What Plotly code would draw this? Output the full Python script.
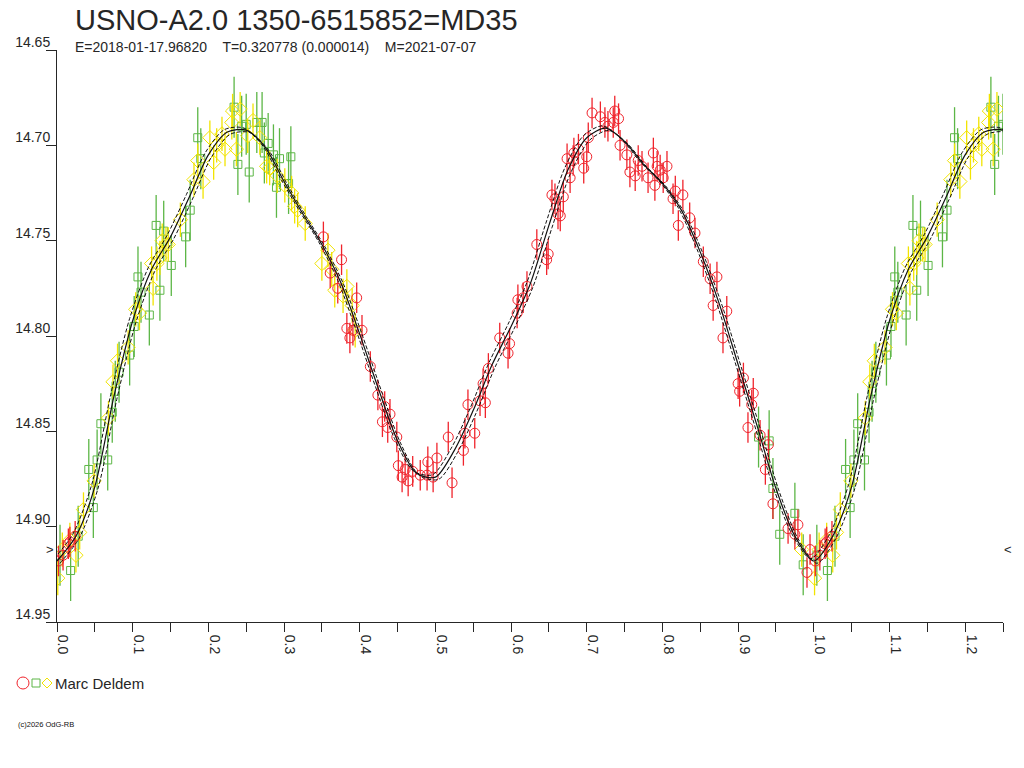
import plotly.graph_objects as go

# ---------------- data (phase, magnitude) ----------------
red_phase = [0.352, 0.361, 0.371, 0.376, 0.383, 0.387, 0.391, 0.396, 0.403, 0.414,
             0.424, 0.430, 0.433, 0.437, 0.440, 0.449, 0.451, 0.456, 0.460, 0.464,
             0.470, 0.480, 0.489, 0.490, 0.497, 0.502, 0.517, 0.522, 0.537, 0.539,
             0.543, 0.552, 0.559, 0.563, 0.566, 0.570, 0.585, 0.596, 0.598, 0.608,
             0.609, 0.616, 0.621, 0.634, 0.647, 0.649, 0.654, 0.658, 0.662, 0.665,
             0.669, 0.674, 0.678, 0.682, 0.683, 0.689, 0.696, 0.700, 0.702, 0.707,
             0.718, 0.724, 0.728, 0.735, 0.737, 0.742, 0.744, 0.753, 0.757, 0.764,
             0.768, 0.773, 0.781, 0.788, 0.790, 0.793, 0.797, 0.801, 0.806, 0.814,
             0.817, 0.821, 0.827, 0.836, 0.843, 0.854, 0.863, 0.867, 0.872, 0.880,
             0.885, 0.900, 0.902, 0.907, 0.913, 0.918, 0.920, 0.929, 0.936, 0.940,
             0.946, 0.966, 0.975, 0.979, 0.991, 0.995, 0.002, 0.008, 0.015, 0.017,
             0.024]
red_mag = [14.748, 14.767, 14.775, 14.760, 14.796, 14.801, 14.797, 14.780, 14.797, 14.816,
           14.831, 14.845, 14.837, 14.848, 14.841, 14.853, 14.868, 14.874, 14.870, 14.876,
           14.871, 14.873, 14.873, 14.866, 14.874, 14.864, 14.853, 14.877, 14.860, 14.851,
           14.836, 14.851, 14.834, 14.825, 14.835, 14.817, 14.801, 14.809, 14.804, 14.788,
           14.781, 14.780, 14.774, 14.752, 14.760, 14.757, 14.726, 14.728, 14.736, 14.737,
           14.727, 14.707, 14.717, 14.708, 14.704, 14.702, 14.712, 14.706, 14.696, 14.683,
           14.685, 14.688, 14.690, 14.688, 14.682, 14.686, 14.700, 14.705, 14.714, 14.716,
           14.708, 14.711, 14.717, 14.704, 14.721, 14.711, 14.713, 14.717, 14.711, 14.728,
           14.724, 14.742, 14.726, 14.738, 14.746, 14.761, 14.770, 14.784, 14.769, 14.801,
           14.787, 14.825, 14.829, 14.822, 14.848, 14.836, 14.830, 14.852, 14.870, 14.857,
           14.888, 14.901, 14.904, 14.899, 14.924, 14.912, 14.918, 14.915, 14.909, 14.908,
           14.905]
red_err = 0.008

green_phase = [0.004, 0.018, 0.028, 0.042, 0.048, 0.053, 0.058, 0.067, 0.073, 0.077,
               0.082, 0.096, 0.102, 0.107, 0.111, 0.122, 0.131, 0.136, 0.141, 0.151,
               0.170, 0.176, 0.186, 0.190, 0.234, 0.239, 0.244, 0.250, 0.254, 0.264,
               0.271, 0.274, 0.279, 0.286, 0.290, 0.294, 0.306, 0.309, 0.927, 0.941,
               0.946, 0.955, 0.975, 0.986]
green_mag = [14.915, 14.923, 14.905, 14.870, 14.890, 14.865, 14.846, 14.865, 14.840, 14.829,
             14.819, 14.810, 14.795, 14.769, 14.777, 14.789, 14.742, 14.776, 14.745, 14.763,
             14.748, 14.734, 14.696, 14.707, 14.680, 14.710, 14.690, 14.689, 14.714, 14.688,
             14.688, 14.704, 14.699, 14.705, 14.722, 14.707, 14.720, 14.706, 14.853, 14.855,
             14.880, 14.904, 14.893, 14.920]
green_err = 0.016

yellow_phase = [0.001, 0.007, 0.017, 0.025, 0.030, 0.035, 0.049, 0.068, 0.074, 0.080,
                0.094, 0.104, 0.109, 0.125, 0.127, 0.132, 0.136, 0.139, 0.144, 0.147,
                0.163, 0.181, 0.186, 0.193, 0.202, 0.207, 0.211, 0.218, 0.222, 0.231,
                0.232, 0.237, 0.242, 0.252, 0.259, 0.268, 0.277, 0.281, 0.291, 0.301,
                0.310, 0.314, 0.318, 0.328, 0.350, 0.358, 0.363, 0.367, 0.378, 0.383,
                0.390, 0.394, 0.984]
yellow_mag = [14.927, 14.912, 14.907, 14.915, 14.903, 14.891, 14.876, 14.843, 14.824, 14.813,
              14.806, 14.786, 14.788, 14.762, 14.775, 14.762, 14.759, 14.750, 14.752, 14.752,
              14.739, 14.718, 14.708, 14.719, 14.696, 14.709, 14.700, 14.694, 14.702, 14.688,
              14.682, 14.702, 14.681, 14.695, 14.687, 14.696, 14.711, 14.712, 14.716, 14.721,
              14.725, 14.732, 14.734, 14.741, 14.762, 14.755, 14.765, 14.776, 14.779, 14.774,
              14.784, 14.797, 14.912]
yellow_err = 0.009

# fitted light curve
fit_phase = [0.000, 0.025, 0.050, 0.075, 0.100, 0.125, 0.150, 0.175, 0.200, 0.225,
             0.250, 0.275, 0.300, 0.325, 0.350, 0.375, 0.400, 0.425, 0.450, 0.475,
             0.500, 0.525, 0.550, 0.575, 0.600, 0.625, 0.650, 0.675, 0.700, 0.725,
             0.750, 0.775, 0.800, 0.825, 0.850, 0.875, 0.900, 0.925, 0.950, 0.975]
fit_mag = [14.918, 14.905, 14.879, 14.832, 14.792, 14.765, 14.748, 14.727, 14.705, 14.693,
           14.692, 14.701, 14.719, 14.736, 14.752, 14.772, 14.799, 14.828, 14.855, 14.872,
           14.874, 14.860, 14.839, 14.815, 14.795, 14.773, 14.742, 14.713, 14.696, 14.691,
           14.698, 14.710, 14.720, 14.734, 14.756, 14.783, 14.815, 14.847, 14.880, 14.905]

x_ticks = [0.0, 0.1, 0.2, 0.3, 0.4, 0.5, 0.6, 0.7, 0.8, 0.9, 1.0, 1.1, 1.2]
y_ticks = [14.65, 14.70, 14.75, 14.80, 14.85, 14.90, 14.95]

title_text = "USNO-A2.0 1350-6515852=MD35"
sub_text = "E=2018-01-17.96820\u00a0\u00a0\u00a0\u00a0T=0.320778 (0.000014)\u00a0\u00a0\u00a0\u00a0M=2021-07-07"
observer = "Marc Deldem"
mean_mag = 14.912
X_MAX = 1.25


def wrap(ph, mg):
    xs = list(ph)
    ys = list(mg)
    for p, m in zip(ph, mg):
        if p + 1.0 <= X_MAX:
            xs.append(p + 1.0)
            ys.append(m)
    return xs, ys


FONT = "Liberation Sans, Arial, sans-serif"
TXT = "#262626"
RED = "#f0242c"
GREEN = "#5cb646"
YELLOW = "#f2e400"

fig = go.Figure()

for ph, mg, err, col, sym, size in [
    (green_phase, green_mag, green_err, GREEN, "square-open", 8),
    (yellow_phase, yellow_mag, yellow_err, YELLOW, "diamond-open", 11),
    (red_phase, red_mag, red_err, RED, "circle-open", 10),
]:
    xs, ys = wrap(ph, mg)
    fig.add_trace(go.Scatter(
        x=xs, y=ys, mode="markers",
        marker=dict(symbol=sym, size=size, color=col, line=dict(width=1, color=col)),
        error_y=dict(type="constant", value=err, color=col, thickness=1.3, width=0),
        showlegend=False, hoverinfo="skip"))

# fitted curve (one cycle, then wrapped)
cp = fit_phase + [p + 1.0 for p in fit_phase if p + 1.0 <= X_MAX + 0.03]
cm = fit_mag + [m for p, m in zip(fit_phase, fit_mag) if p + 1.0 <= X_MAX + 0.03]
for dx, dy, dash, w in [(0.004, 0.0012, "4px,2px", 1), (-0.004, -0.0012, "4px,2px", 1), (0, 0, "solid", 1.2)]:
    fig.add_trace(go.Scatter(
        x=[p + dx for p in cp], y=[m + dy for m in cm], mode="lines",
        line=dict(color="#111111", width=w, dash=dash, shape="spline", smoothing=0.8),
        showlegend=False, hoverinfo="skip"))

fig.update_layout(
    width=1024, height=768,
    margin=dict(l=57, r=21, t=50, b=146),
    paper_bgcolor="white", plot_bgcolor="white",
    font=dict(family=FONT, color=TXT),
    showlegend=False,
)

fig.update_xaxes(
    range=[0, X_MAX], showgrid=False, zeroline=False,
    showline=True, linecolor=TXT, linewidth=1,
    tickvals=x_ticks, ticktext=["%.1f" % v for v in x_ticks],
    ticks="outside", ticklen=9, tickcolor=TXT, tickwidth=1,
    tickangle=90, ticklabelshift=6,
    tickfont=dict(size=14, family=FONT, color=TXT),
    minor=dict(dtick=0.05, tick0=0, ticks="outside", ticklen=9, tickcolor=TXT, tickwidth=1),
)
fig.update_yaxes(
    range=[14.95, 14.65], showgrid=False, zeroline=False,
    showline=True, linecolor=TXT, linewidth=1,
    tickvals=y_ticks, ticktext=["%.2f" % v for v in y_ticks],
    ticks="outside", ticklen=10, tickcolor=TXT, tickwidth=1,
    ticklabelshift=8, ticklabelstandoff=-7,
    tickfont=dict(size=14, family=FONT, color=TXT),
)


def px2paper(px, py):
    return (px - 57) / 946.0, (622 - py) / 572.0


ann = []
tx, ty = px2paper(73, 20)
ann.append(dict(x=tx, y=ty, xref="paper", yref="paper", text=title_text, showarrow=False,
                xanchor="left", yanchor="middle", font=dict(size=29, family=FONT, color=TXT)))
tx, ty = px2paper(73, 47)
ann.append(dict(x=tx, y=ty, xref="paper", yref="paper", text=sub_text, showarrow=False,
                xanchor="left", yanchor="middle", font=dict(size=14, family=FONT, color=TXT)))
tx, ty = px2paper(53, 683)
ann.append(dict(x=tx, y=ty, xref="paper", yref="paper", text=observer, showarrow=False,
                xanchor="left", yanchor="middle", font=dict(size=15, family=FONT, color=TXT)))
tx, ty = px2paper(16, 724)
ann.append(dict(x=tx, y=ty, xref="paper", yref="paper", text="(c)2026 OdG-RB", showarrow=False,
                xanchor="left", yanchor="middle", font=dict(size=7.5, family=FONT, color="#111111")))
tx, _ = px2paper(50, 0)
ann.append(dict(x=tx, y=mean_mag, xref="paper", yref="y", text=">", showarrow=False,
                xanchor="center", yanchor="middle", font=dict(size=13, family=FONT, color=TXT)))
tx, _ = px2paper(1008, 0)
ann.append(dict(x=tx, y=mean_mag, xref="paper", yref="y", text="<", showarrow=False,
                xanchor="center", yanchor="middle", font=dict(size=13, family=FONT, color=TXT)))
fig.update_layout(annotations=ann)

# legend symbols
shapes = []
x0, y0 = px2paper(17, 677)
x1, y1 = px2paper(29, 689)
shapes.append(dict(type="circle", xref="paper", yref="paper", x0=x0, y0=y1, x1=x1, y1=y0,
                   line=dict(color=RED, width=1)))
x0, y0 = px2paper(32, 679)
x1, y1 = px2paper(40, 687)
shapes.append(dict(type="rect", xref="paper", yref="paper", x0=x0, y0=y1, x1=x1, y1=y0,
                   line=dict(color=GREEN, width=1)))
xa, ya = px2paper(42, 683)
xb, yb = px2paper(47, 678)
xc, yc = px2paper(52, 683)
xd, yd = px2paper(47, 688)
shapes.append(dict(type="path", xref="paper", yref="paper",
                   path=f"M {xa} {ya} L {xb} {yb} L {xc} {yc} L {xd} {yd} Z",
                   line=dict(color=YELLOW, width=1)))
fig.update_layout(shapes=shapes)

fig.write_html("out.html", config={"displayModeBar": False},
               post_script="document.body.style.margin='0px';")
